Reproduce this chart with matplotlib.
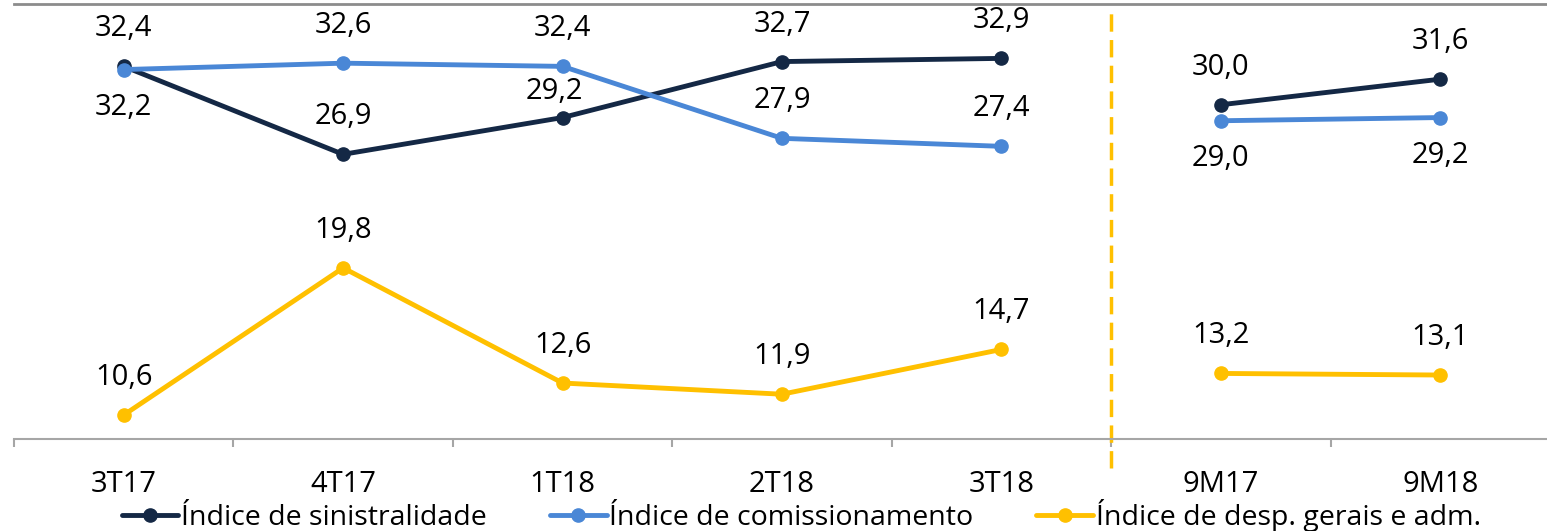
import matplotlib.pyplot as plt
import numpy as np

categories = ["3T17", "4T17", "1T18", "2T18", "3T18", "9M17", "9M18"]
sinistralidade = [32.4, 26.9, 29.2, 32.7, 32.9, 30.0, 31.6]
comissionamento = [32.2, 32.6, 32.4, 27.9, 27.4, 29.0, 29.2]
desp_gerais = [10.6, 19.8, 12.6, 11.9, 14.7, 13.2, 13.1]

# label placement per point: 1 = above, -1 = below
pos_sin = [1, 1, 1, 1, 1, 1, 1]
pos_com = [-1, 1, 1, 1, 1, -1, -1]
pos_desp = [1, 1, 1, 1, 1, 1, 1]

names = ["Índice de sinistralidade", "Índice de comissionamento",
         "Índice de desp. gerais e adm."]
colors = ["#142845", "#4A87D6", "#FFC000"]

plt.rcParams['font.family'] = ['Open Sans', 'DejaVu Sans']
fs = 21

fig = plt.figure(figsize=(15.47, 5.31), dpi=100)
W, H = 1547, 531
ax = fig.add_axes([14 / W, (H - 439) / H, (1550 - 14) / W, (439 - 4) / H])

x = np.arange(len(categories))
segments = [slice(0, 5), slice(5, 7)]

series = [(sinistralidade, pos_sin), (comissionamento, pos_com), (desp_gerais, pos_desp)]
for si, ((vals, pos), name, c) in enumerate(zip(series, names, colors)):
    vals = np.array(vals)
    for k, seg in enumerate(segments):
        ax.plot(x[seg], vals[seg], color=c, lw=3.5, marker='o', ms=9.5,
                solid_capstyle='round', label=name if k == 0 else None, zorder=3)
    for xi, v, p in zip(x, vals, pos):
        dx, dy = 0, 27 * p
        if si == 0 and xi == 2:
            dx, dy = -6, 19
        ax.annotate(f"{v:.1f}".replace('.', ','), (xi, v),
                    xytext=(dx, dy), textcoords='offset points',
                    ha='center', va='center', fontsize=fs, color='black')

ax.set_xlim(-0.5, len(categories) - 0.5)
ax.set_ylim(9.1, 36.3)

ax.axvline(4.5, ymin=-0.067, ymax=0.993, color="#FFC000", lw=2.5,
           ls=(0, (5, 2.4)), clip_on=False, zorder=2)

for s in ['left', 'right']:
    ax.spines[s].set_visible(False)
ax.spines['bottom'].set_color('#A6A6A6')
ax.spines['bottom'].set_linewidth(1.5)
ax.spines['top'].set_color('#8C8C8C')
ax.spines['top'].set_linewidth(2)

ax.set_yticks([])
ax.set_xticks(x)
ax.set_xticklabels(categories, fontsize=fs)
ax.tick_params(axis='x', which='major', length=0, pad=22)
ax.set_xticks(np.arange(-0.5, len(categories)), minor=True)
ax.tick_params(axis='x', which='minor', length=6, width=1.5, color='#A6A6A6')

fig.legend(loc='lower center', bbox_to_anchor=(0.518, -0.05), ncol=3, frameon=False,
           fontsize=20.5, handlelength=2.0, handletextpad=0.1, columnspacing=2.2)

fig.savefig("out.png", dpi=100)
